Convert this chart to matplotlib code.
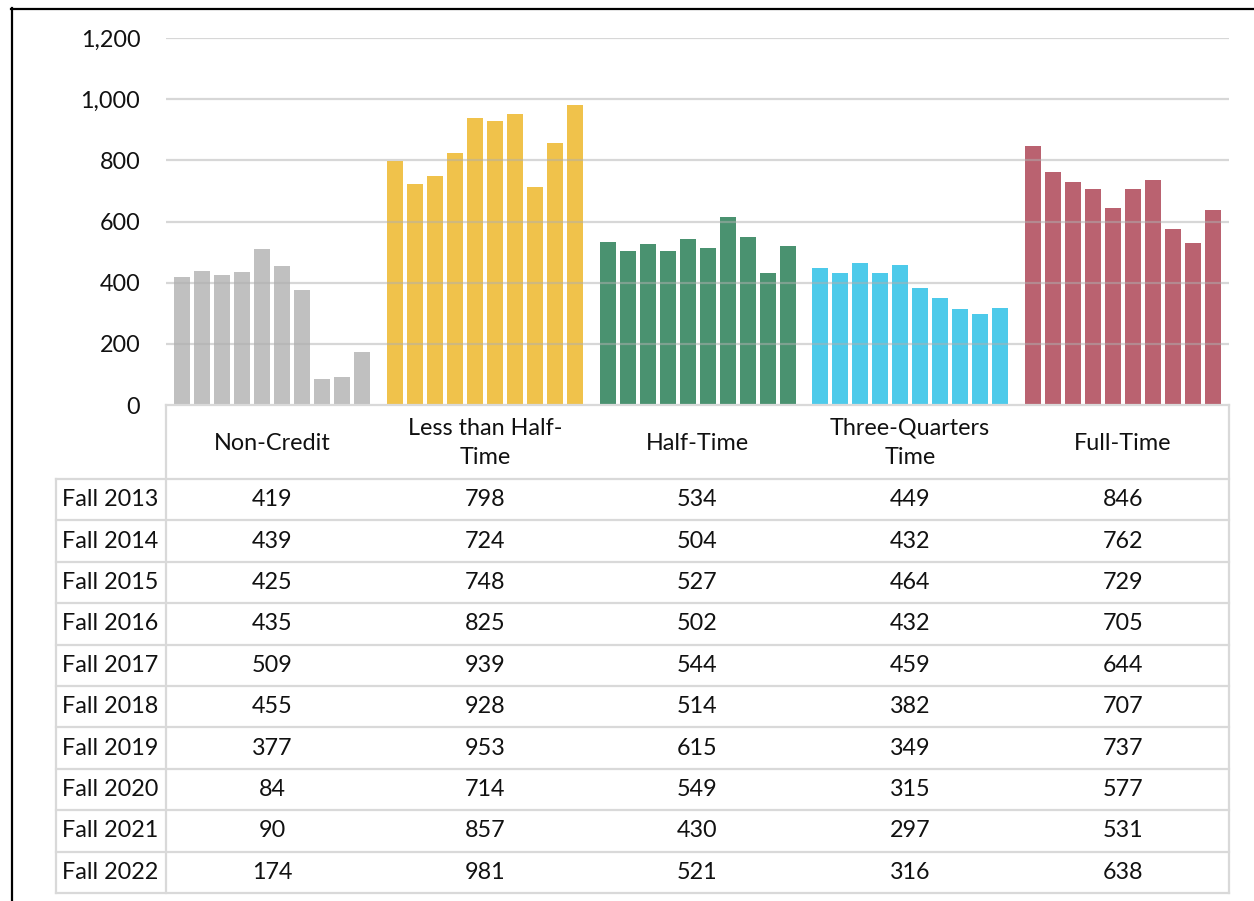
import numpy as np
import matplotlib.pyplot as plt
from matplotlib.lines import Line2D

plt.rcParams['font.family'] = ['Lato', 'DejaVu Sans']

categories = ['Non-Credit', 'Less than Half-\nTime', 'Half-Time', 'Three-Quarters\nTime', 'Full-Time']
terms = ['Fall 2013', 'Fall 2014', 'Fall 2015', 'Fall 2016', 'Fall 2017',
         'Fall 2018', 'Fall 2019', 'Fall 2020', 'Fall 2021', 'Fall 2022']
non_credit = [419, 439, 425, 435, 509, 455, 377, 84, 90, 174]
less_half = [798, 724, 748, 825, 939, 928, 953, 714, 857, 981]
half_time = [534, 504, 527, 502, 544, 514, 615, 549, 430, 521]
three_quarter = [449, 432, 464, 432, 459, 382, 349, 315, 297, 316]
full_time = [846, 762, 729, 705, 644, 707, 737, 577, 531, 638]
colors = ['#C0C0C0', '#F0C24B', '#4A9270', '#4DCAEA', '#BA6270']

series = [non_credit, less_half, half_time, three_quarter, full_time]
FS = 16.8
TXT = '#111111'

W, H = 1254, 901
fig = plt.figure(figsize=(W / 100, H / 100), dpi=100)

# chart area in pixel terms
x0, x1 = 166, 1229
y_top, y_zero = 38, 405
ax = fig.add_axes([x0 / W, 1 - y_zero / H, (x1 - x0) / W, (y_zero - y_top) / H])

step = 20 / ((x1 - x0) / 5)
width = 16 / ((x1 - x0) / 5)
offsets = (np.arange(10) - 4.5) * step
for ci, vals in enumerate(series):
    ax.bar(ci + offsets, vals, width=width, color=colors[ci], zorder=2)

ax.set_xlim(-0.5, 4.5)
ax.set_ylim(0, 1200)
ax.set_yticks(range(0, 1201, 200))
ax.set_yticklabels([f'{v:,}' for v in range(0, 1201, 200)], fontsize=FS, color=TXT)
ax.tick_params(axis='y', length=0, pad=18.5)
ax.set_xticks([])
for v in range(200, 1201, 200):
    ax.axhline(v, color='#b0b0b0', lw=1.6, alpha=0.5, zorder=3)
for s in ['top', 'right', 'left']:
    ax.spines[s].set_visible(False)
ax.spines['bottom'].set_color('#D9D9D9')
ax.spines['bottom'].set_linewidth(1.6)
ax.spines['bottom'].set_zorder(4)

# data table underneath the chart
tab = fig.add_axes([0, 0, 1, 1])
tab.set_xlim(0, W)
tab.set_ylim(H, 0)
tab.axis('off')
tab.patch.set_alpha(0)

grid_c = '#D9D9D9'
lbl_x0 = 56
hdr_bottom = 479
row_h = 41.4
col_w = (x1 - x0) / 5
n_rows = len(terms)
tab_bottom = hdr_bottom + n_rows * row_h

tab.plot([x0, x0], [y_zero, tab_bottom], color=grid_c, lw=1.6)
tab.plot([x1, x1], [y_zero, tab_bottom], color=grid_c, lw=1.6)
tab.plot([lbl_x0, lbl_x0], [hdr_bottom, tab_bottom], color=grid_c, lw=1.6)
for r in range(n_rows + 1):
    y = hdr_bottom + r * row_h
    tab.plot([lbl_x0, x1], [y, y], color=grid_c, lw=1.6)

for ci, name in enumerate(categories):
    cx = x0 + (ci + 0.5) * col_w
    tab.text(cx, (y_zero + hdr_bottom) / 2 + 1, name, ha='center', va='center',
             fontsize=FS, color=TXT, linespacing=1.5)
    for r, v in enumerate(series[ci]):
        tab.text(cx, hdr_bottom + (r + 0.5) * row_h, str(v), ha='center', va='center',
                 fontsize=FS, color=TXT)

for r, t in enumerate(terms):
    tab.text(lbl_x0 + 6, hdr_bottom + (r + 0.5) * row_h, t, ha='left', va='center',
             fontsize=FS, color=TXT)

# outer frame
fig.add_artist(Line2D([11 / W, 1], [1 - 8.5 / H, 1 - 8.5 / H], color='black', lw=1.6))
fig.add_artist(Line2D([11.5 / W, 11.5 / W], [0, 1 - 8 / H], color='black', lw=1.6))

fig.savefig('out.png', dpi=100)
